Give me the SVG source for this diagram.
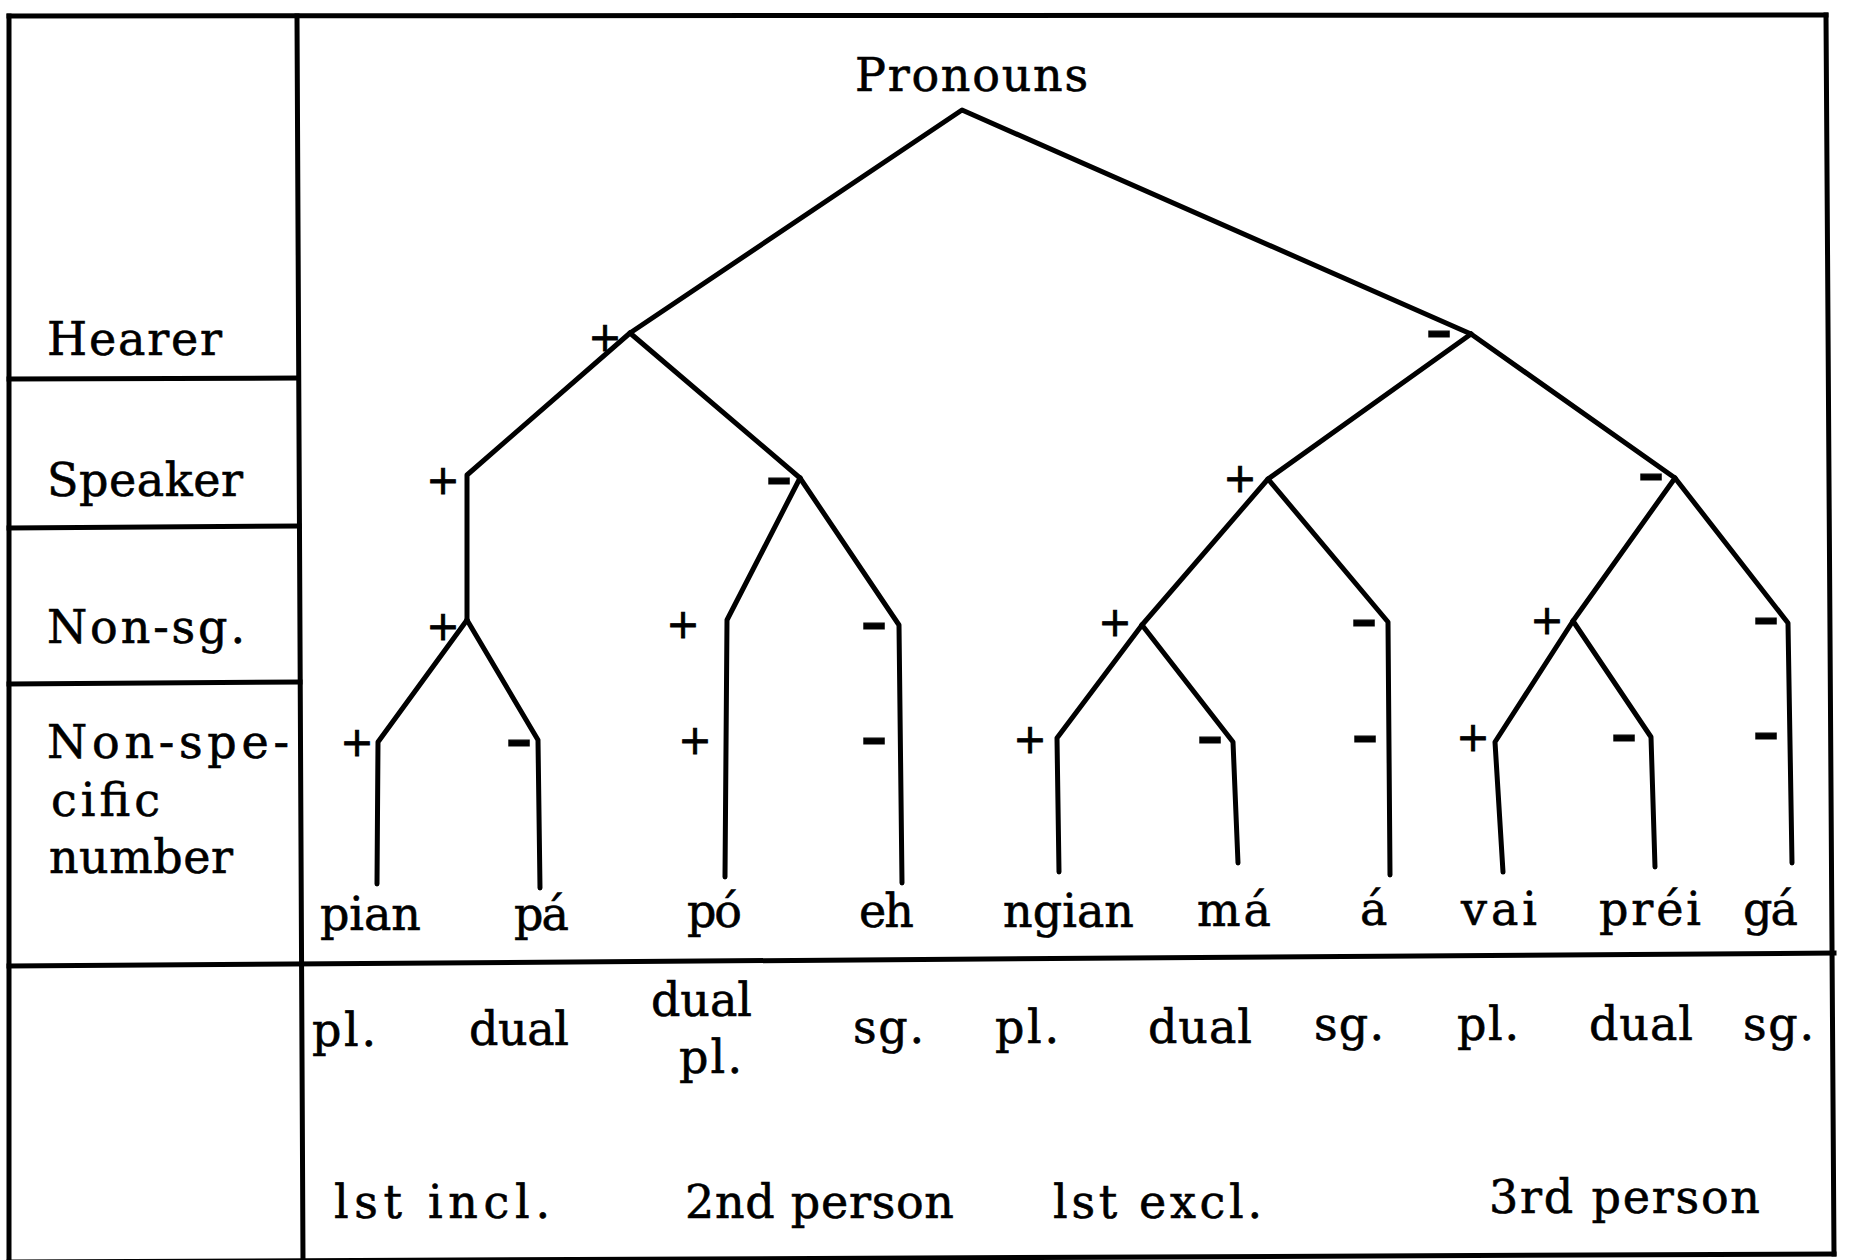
<svg xmlns="http://www.w3.org/2000/svg" width="1849" height="1260" viewBox="0 0 1849 1260">
<style>
.bg{fill:#fff}
.fr{stroke:#000;stroke-width:5;fill:none;stroke-linecap:square}
.ln{stroke:#000;stroke-width:5;fill:none;stroke-linejoin:round;stroke-linecap:round}
.t{font-family:"DejaVu Serif","Liberation Serif",serif;font-size:46px;fill:#000;stroke:#000;stroke-width:0.6}
.p{font-family:"DejaVu Sans","Liberation Sans",sans-serif;font-size:40px;fill:#000;stroke:#000;stroke-width:0.8;text-anchor:middle}
.m{font-family:"DejaVu Sans","Liberation Sans",sans-serif;font-weight:bold;font-size:40px;fill:#000;stroke:#000;stroke-width:1.2;text-anchor:middle}
</style>
<rect class="bg" x="0" y="0" width="1849" height="1260"/>
<g id="frame">
<line class="fr" x1="9" y1="16" x2="1826" y2="15"/>
<line class="fr" x1="1826" y1="15" x2="1834" y2="1254"/>
<line class="fr" x1="9" y1="16" x2="9" y2="1262"/>
<line class="fr" x1="9" y1="1262" x2="1834" y2="1254"/>
<line class="fr" x1="297" y1="16" x2="303" y2="1262"/>
<line class="fr" x1="9" y1="379" x2="298" y2="378"/>
<line class="fr" x1="9" y1="528" x2="299" y2="526"/>
<line class="fr" x1="9" y1="684" x2="300" y2="682"/>
<line class="fr" x1="9" y1="966" x2="1834" y2="953"/>
</g>
<g id="row-labels">
<g id="lbl-hearer"><text class="t" x="47" y="355" textLength="175">Hearer</text></g>
<g id="lbl-speaker"><text class="t" x="47" y="496" textLength="196">Speaker</text></g>
<g id="lbl-nonsg"><text class="t" x="47" y="643" textLength="198">Non-sg.</text></g>
<g id="lbl-nonspec"><text class="t" x="47" y="758" textLength="242">Non-spe-</text><text class="t" x="51" y="816" textLength="109">cific</text><text class="t" x="49" y="873" textLength="184">number</text></g>
</g>
<g id="connectors">
<polyline class="ln" points="630,333 962,110 1471,334"/>
<polyline class="ln" points="630,333 467,475 467,620"/>
<polyline class="ln" points="467,620 378,742 377,884"/>
<polyline class="ln" points="467,620 538,740 540,888"/>
<polyline class="ln" points="630,333 800,478"/>
<polyline class="ln" points="800,478 727,620 725,877"/>
<polyline class="ln" points="800,478 899,625 902,883"/>
<polyline class="ln" points="1471,334 1268,479 1142,625"/>
<polyline class="ln" points="1142,625 1057,738 1059,872"/>
<polyline class="ln" points="1142,625 1233,742 1238,863"/>
<polyline class="ln" points="1268,479 1388,622 1390,875"/>
<polyline class="ln" points="1471,334 1675,478 1573,621"/>
<polyline class="ln" points="1573,621 1495,742 1503,872"/>
<polyline class="ln" points="1573,621 1651,737 1655,867"/>
<polyline class="ln" points="1675,478 1788,623 1792,863"/>
</g>
<g id="root"><text class="t" x="855" y="91" textLength="233">Pronouns</text></g>
<g id="signs">
<text class="p" x="605" y="351">+</text>
<text class="m" transform="translate(1439 346) scale(1.6 1)">-</text>
<text class="p" x="443" y="494">+</text>
<text class="m" transform="translate(779 493) scale(1.6 1)">-</text>
<text class="p" x="1240" y="492">+</text>
<text class="m" transform="translate(1651 489) scale(1.6 1)">-</text>
<text class="p" x="443" y="640">+</text>
<text class="p" x="683" y="638">+</text>
<text class="m" transform="translate(874 638) scale(1.6 1)">-</text>
<text class="p" x="1115" y="636">+</text>
<text class="m" transform="translate(1364 635) scale(1.6 1)">-</text>
<text class="p" x="1547" y="634">+</text>
<text class="m" transform="translate(1766 633) scale(1.6 1)">-</text>
<text class="p" x="357" y="756">+</text>
<text class="m" transform="translate(519 755) scale(1.6 1)">-</text>
<text class="p" x="695" y="754">+</text>
<text class="m" transform="translate(874 753) scale(1.6 1)">-</text>
<text class="p" x="1030" y="753">+</text>
<text class="m" transform="translate(1210 752) scale(1.6 1)">-</text>
<text class="m" transform="translate(1365 751) scale(1.6 1)">-</text>
<text class="p" x="1473" y="751">+</text>
<text class="m" transform="translate(1624 750) scale(1.6 1)">-</text>
<text class="m" transform="translate(1766 748) scale(1.6 1)">-</text>
</g>
<g id="leaves">
<g id="leaf-pian"><text class="t" x="320" y="930" textLength="101">pian</text><text class="t" x="312" y="1046" textLength="64">pl.</text><text class="t" x="469" y="1045" textLength="100">dual</text></g>
<g id="leaf-pa"><text class="t" x="514" y="930" textLength="55">pá</text></g>
<g id="leaf-po"><text class="t" x="687" y="927" textLength="55">pó</text><text class="t" x="651" y="1016" textLength="101">dual</text><text class="t" x="679" y="1073" textLength="63">pl.</text></g>
<g id="leaf-eh"><text class="t" x="859" y="927" textLength="55">eh</text><text class="t" x="853" y="1043" textLength="71">sg.</text></g>
<g id="leaf-ngian"><text class="t" x="1003" y="927" textLength="131">ngian</text><text class="t" x="995" y="1043" textLength="64">pl.</text></g>
<g id="leaf-ma"><text class="t" x="1197" y="926" textLength="74">má</text><text class="t" x="1148" y="1043" textLength="104">dual</text></g>
<g id="leaf-a"><text class="t" x="1360" y="925">á</text><text class="t" x="1314" y="1040" textLength="70">sg.</text></g>
<g id="leaf-vai"><text class="t" x="1461" y="925" textLength="76">vai</text><text class="t" x="1457" y="1040" textLength="62">pl.</text></g>
<g id="leaf-prei"><text class="t" x="1599" y="925" textLength="102">préi</text><text class="t" x="1589" y="1040" textLength="104">dual</text></g>
<g id="leaf-ga"><text class="t" x="1743" y="925" textLength="55">gá</text><text class="t" x="1743" y="1040" textLength="71">sg.</text></g>
</g>
<g id="person-labels">
<g id="grp-1incl"><text class="t" x="334" y="1218" textLength="216">lst incl.</text></g>
<g id="grp-2nd"><text class="t" x="685" y="1218" textLength="269">2nd person</text></g>
<g id="grp-1excl"><text class="t" x="1053" y="1218" textLength="209">lst excl.</text></g>
<g id="grp-3rd"><text class="t" x="1489" y="1213" textLength="271">3rd person</text></g>
</g>
</svg>
